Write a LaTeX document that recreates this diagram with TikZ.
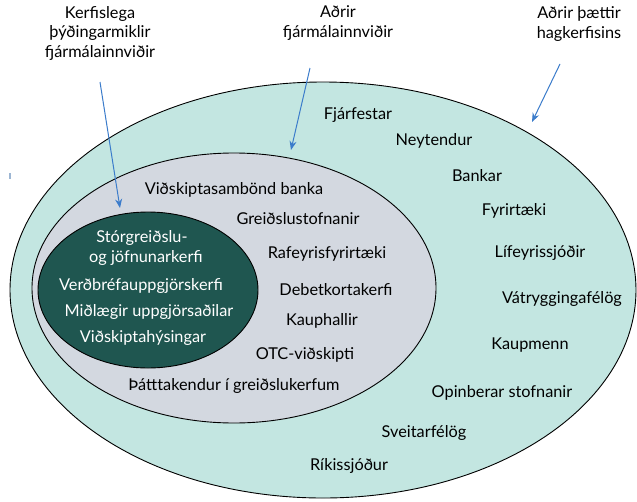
\documentclass[tikz,border=0pt]{standalone}
\usepackage{fontspec}
\setmainfont{Lato}
\usetikzlibrary{arrows.meta}
\definecolor{outerfill}{HTML}{C3E6E1}
\definecolor{innerfill}{HTML}{D3D8E0}
\definecolor{corefill}{HTML}{1F5650}
\definecolor{arrowblue}{HTML}{3B7CCB}
\definecolor{tickblue}{HTML}{9DB6D3}
\tikzset{
  ring/.style={draw=black, line width=0.9pt},
  lbl/.style={font=\fontsize{16.3}{19}\selectfont, text=black, inner sep=0pt},
  corelbl/.style={lbl, text=white},
  toplbl/.style={lbl, align=center, font=\fontsize{16.3}{19.5}\selectfont},
  pointer/.style={draw=arrowblue, line width=1pt, -{Stealth[length=9pt,width=7pt]}}
}
\begin{document}
\begin{tikzpicture}[x=1pt, y=-1pt]
\useasboundingbox (0,0) rectangle (637,501);
\begin{scope}
\clip (0,0) rectangle (637,501);
\fill[white] (0,0) rectangle (637,501);
% nested ellipses
\draw[ring, fill=outerfill] (323,290) ellipse [x radius=313, y radius=208];
\draw[ring, fill=innerfill] (234,288) ellipse [x radius=202, y radius=135];
\draw[ring, fill=corefill] (148,290) ellipse [x radius=110, y radius=78];
\end{scope}

% small stray mark at the left
\draw[tickblue, line width=2pt] (10,173) -- (10,179);

% headings
\node[toplbl] (hsys) at (100,33) {Kerfislega\\þýðingarmiklir\\fjármálainnviðir};
\node[toplbl] (hfin) at (338,23) {Aðrir\\fjármálainnviðir};
\node[toplbl] (heco) at (579,24) {Aðrir þættir\\hagkerfisins};

% arrow anchors
\coordinate (s1) at (100,82);
\coordinate (e1) at (120,208);
\coordinate (s2) at (310,68);
\coordinate (e2) at (291,150);
\coordinate (s3) at (560,64);
\coordinate (e3) at (532,122);
\draw[pointer] (s1) -- (e1);
\draw[pointer] (s2) -- (e2);
\draw[pointer] (s3) -- (e3);

% core systems
\node[corelbl] (c1) at (142,238) {Stórgreiðslu-};
\node[corelbl] (c2) at (146,258) {og jöfnunarkerfi};
\node[corelbl] (c3) at (141,286) {Verðbréfauppgjörskerfi};
\node[corelbl] (c4) at (149,312) {Miðlægir uppgjörsaðilar};
\node[corelbl] (c5) at (143,338) {Viðskiptahýsingar};

% other infrastructure
\node[lbl] (i1) at (234,190) {Viðskiptasambönd banka};
\node[lbl] (i2) at (298,219) {Greiðslustofnanir};
\node[lbl] (i3) at (327,254) {Rafeyrisfyrirtæki};
\node[lbl] (i4) at (336,290) {Debetkortakerfi};
\node[lbl] (i5) at (322,321) {Kauphallir};
\node[lbl] (i6) at (305,355) {OTC-viðskipti};
\node[lbl] (i7) at (234,386) {Þátttakendur í greiðslukerfum};

% rest of the economy
\node[lbl] (o1) at (358,115) {Fjárfestar};
\node[lbl] (o2) at (434,141) {Neytendur};
\node[lbl] (o3) at (477,176) {Bankar};
\node[lbl] (o4) at (514,211) {Fyrirtæki};
\node[lbl] (o5) at (540,253) {Lífeyrissjóðir};
\node[lbl] (o6) at (562,299) {Vátryggingafélög};
\node[lbl] (o7) at (530,345) {Kaupmenn};
\node[lbl] (o8) at (502,393) {Opinberar stofnanir};
\node[lbl] (o9) at (424,433) {Sveitarfélög};
\node[lbl] (o10) at (349,466) {Ríkissjóður};
\end{tikzpicture}
\end{document}
